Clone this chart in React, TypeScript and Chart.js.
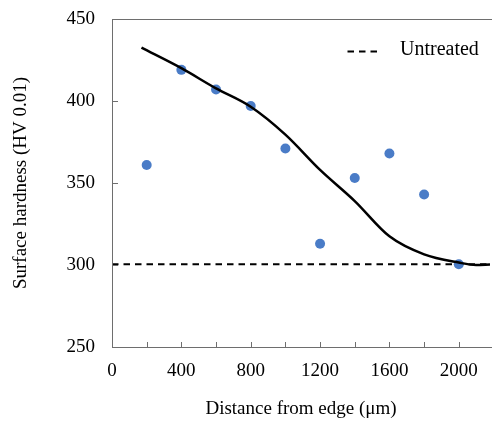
import React, { useEffect, useRef } from "react";
import { Chart, registerables } from "chart.js";

Chart.register(...registerables);

// Measured hardness points
const distances = [200, 400, 600, 800, 1000, 1200, 1400, 1600, 1800, 2000];
const hardness = [361, 419, 407, 397, 371, 313, 353, 368, 343, 300.5];

// Smooth trend curve
const trendX = [170, 400, 600, 800, 1000, 1200, 1400, 1600, 1800, 2000, 2100, 2180];
const trendY = [432.5, 420, 407.7, 396.5, 379.5, 358, 339, 317.5, 306.5, 301.5, 300, 300.3];

// Untreated reference level
const untreatedX = [0, 2180];
const untreatedLevel = 300.5;

const xTicks = [0, 200, 400, 600, 800, 1000, 1200, 1400, 1600, 1800, 2000];
const xLabelStep = 400;
const yTicks = [250, 300, 350, 400, 450];

const FONT = "'Liberation Serif', 'Times New Roman', serif";
const AXIS_COLOR = "#6e6e6e";

const decorPlugin = {
  id: "decor",
  afterDatasetsDraw(chart: any) {
    const { ctx, chartArea, scales } = chart;
    const { left, right, top, bottom } = chartArea;
    const edge = chart.width;
    ctx.save();
    // axis lines and top border
    ctx.strokeStyle = AXIS_COLOR;
    ctx.lineWidth = 1;
    ctx.beginPath();
    ctx.moveTo(left + 0.5, top + 0.5);
    ctx.lineTo(edge, top + 0.5);
    ctx.moveTo(left + 0.5, top);
    ctx.lineTo(left + 0.5, bottom + 0.5);
    ctx.lineTo(edge, bottom + 0.5);
    ctx.stroke();
    // inner tick marks
    ctx.beginPath();
    scales.x.ticks.forEach((t: any) => {
      const px = Math.round(scales.x.getPixelForValue(t.value)) + 0.5;
      ctx.moveTo(px, bottom);
      ctx.lineTo(px, bottom - 5);
    });
    scales.y.ticks.forEach((t: any) => {
      const py = Math.round(scales.y.getPixelForValue(t.value)) + 0.5;
      ctx.moveTo(left, py);
      ctx.lineTo(left + 6, py);
    });
    ctx.stroke();
    // legend
    const ly = top + 32.5;
    const lx = right - 142.5;
    ctx.strokeStyle = "#000";
    ctx.lineWidth = 2;
    ctx.setLineDash([6.5, 5]);
    ctx.beginPath();
    ctx.moveTo(lx, ly);
    ctx.lineTo(lx + 31, ly);
    ctx.stroke();
    ctx.setLineDash([]);
    ctx.fillStyle = "#000";
    ctx.font = `20px ${FONT}`;
    ctx.textBaseline = "middle";
    ctx.textAlign = "left";
    ctx.fillText("Untreated", lx + 52.5, ly - 1.5);
    ctx.restore();
  },
};

export default function App() {
  const ref = useRef<HTMLCanvasElement | null>(null);

  useEffect(() => {
    if (!ref.current) return;
    const chart = new Chart(ref.current, {
      type: "scatter",
      data: {
        datasets: [
          {
            label: "Trend",
            data: trendX.map((x, i) => ({ x, y: trendY[i] })),
            showLine: true,
            borderColor: "#000",
            borderWidth: 2.5,
            pointRadius: 0,
            cubicInterpolationMode: "monotone",
            order: 0,
          } as any,
          {
            label: "Measured",
            data: distances.map((x, i) => ({ x, y: hardness[i] })),
            backgroundColor: "#4a7cc7",
            borderColor: "#4a7cc7",
            pointRadius: 5,
            borderWidth: 0,
            order: 1,
          },
          {
            label: "Untreated",
            data: untreatedX.map((x) => ({ x, y: untreatedLevel })),
            showLine: true,
            borderColor: "#000",
            borderWidth: 2,
            borderDash: [6.5, 5],
            pointRadius: 0,
            order: 2,
          } as any,
        ],
      },
      options: {
        animation: false,
        responsive: true,
        maintainAspectRatio: false,
        layout: { autoPadding: false, padding: { left: 0, top: 19, right: 2, bottom: 0 } },
        plugins: {
          legend: { display: false },
          tooltip: { enabled: false },
        },
        scales: {
          x: {
            type: "linear",
            min: 0,
            max: 2180,
            afterBuildTicks: (scale: any) => {
              scale.ticks = xTicks.map((v) => ({ value: v }));
            },
            afterFit: (scale: any) => {
              scale.height = 74;
              scale.paddingLeft = 0;
              scale.paddingRight = 0;
            },
            grid: { display: false, drawTicks: false },
            border: { display: false },
            ticks: {
              autoSkip: false,
              maxRotation: 0,
              padding: 13,
              color: "#000",
              font: { family: FONT, size: 19 },
              callback: (v: any) => (Number(v) % xLabelStep === 0 ? String(v) : ""),
            },
            title: {
              display: true,
              text: "Distance from edge (μm)",
              color: "#000",
              font: { family: FONT, size: 19 },
              padding: { top: 0, bottom: 1 },
            },
          },
          y: {
            min: 250,
            max: 450,
            afterBuildTicks: (scale: any) => {
              scale.ticks = yTicks.map((v) => ({ value: v }));
            },
            afterFit: (scale: any) => {
              scale.width = 112;
              scale.paddingTop = 0;
              scale.paddingBottom = 0;
            },
            grid: { display: false, drawTicks: false },
            border: { display: false },
            ticks: {
              padding: 17,
              color: "#000",
              font: { family: FONT, size: 19 },
            },
            title: {
              display: true,
              text: "Surface hardness (HV 0.01)",
              color: "#000",
              font: { family: FONT, size: 19 },
              padding: { top: 10, bottom: 0 },
            },
          },
        },
      },
      plugins: [decorPlugin],
    });
    return () => chart.destroy();
  }, []);

  return (
    <div style={{ position: "fixed", left: 0, top: 0, width: 492, height: 421, background: "#fff" }}>
      <canvas ref={ref} />
    </div>
  );
}
